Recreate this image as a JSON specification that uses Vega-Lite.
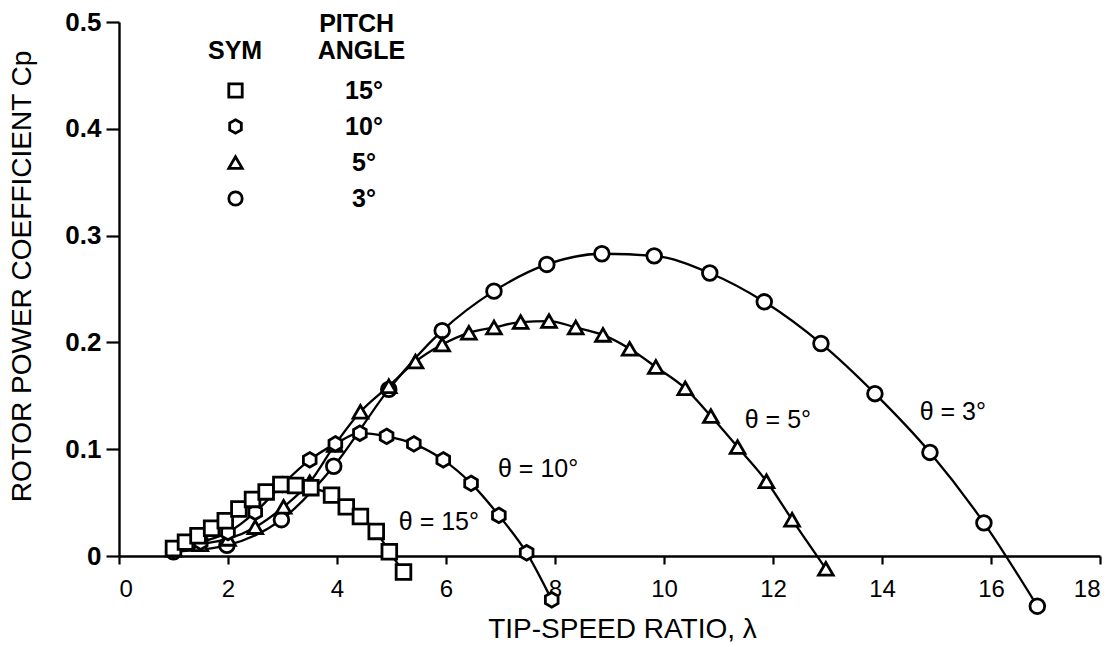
{
  "$schema": "https://vega.github.io/schema/vega-lite/v6.json",
  "width": 981,
  "height": 534,
  "autosize": {"type": "none"},
  "padding": {"left": 119, "top": 22, "right": 19, "bottom": 91},
  "background": "white",
  "config": {
    "view": {"stroke": null},
    "font": "Liberation Sans",
    "axis": {"grid": false, "domainColor": "black", "domainWidth": 2.4, "tickColor": "black", "tickWidth": 2.2, "labelColor": "black", "titleColor": "black", "labelFont": "Liberation Sans", "titleFont": "Liberation Sans"}
  },
  "datasets": {
    "pts": [
      {"pitch": "3°", "tsr": 1.0, "cp": 0.004},
      {"pitch": "3°", "tsr": 1.98, "cp": 0.010},
      {"pitch": "3°", "tsr": 2.98, "cp": 0.034},
      {"pitch": "3°", "tsr": 3.94, "cp": 0.084},
      {"pitch": "3°", "tsr": 4.95, "cp": 0.156},
      {"pitch": "3°", "tsr": 5.93, "cp": 0.211},
      {"pitch": "3°", "tsr": 6.88, "cp": 0.248},
      {"pitch": "3°", "tsr": 7.85, "cp": 0.273},
      {"pitch": "3°", "tsr": 8.86, "cp": 0.283},
      {"pitch": "3°", "tsr": 9.82, "cp": 0.281},
      {"pitch": "3°", "tsr": 10.84, "cp": 0.265},
      {"pitch": "3°", "tsr": 11.84, "cp": 0.238},
      {"pitch": "3°", "tsr": 12.88, "cp": 0.199},
      {"pitch": "3°", "tsr": 13.87, "cp": 0.152},
      {"pitch": "3°", "tsr": 14.88, "cp": 0.097},
      {"pitch": "3°", "tsr": 15.87, "cp": 0.031},
      {"pitch": "3°", "tsr": 16.85, "cp": -0.047},
      {"pitch": "5°", "tsr": 1.0, "cp": 0.006},
      {"pitch": "5°", "tsr": 1.49, "cp": 0.011},
      {"pitch": "5°", "tsr": 2.0, "cp": 0.016},
      {"pitch": "5°", "tsr": 2.5, "cp": 0.027},
      {"pitch": "5°", "tsr": 3.02, "cp": 0.046},
      {"pitch": "5°", "tsr": 3.5, "cp": 0.069},
      {"pitch": "5°", "tsr": 3.96, "cp": 0.104},
      {"pitch": "5°", "tsr": 4.43, "cp": 0.135},
      {"pitch": "5°", "tsr": 4.95, "cp": 0.159},
      {"pitch": "5°", "tsr": 5.44, "cp": 0.182},
      {"pitch": "5°", "tsr": 5.93, "cp": 0.198},
      {"pitch": "5°", "tsr": 6.42, "cp": 0.209},
      {"pitch": "5°", "tsr": 6.88, "cp": 0.214},
      {"pitch": "5°", "tsr": 7.37, "cp": 0.219},
      {"pitch": "5°", "tsr": 7.89, "cp": 0.220},
      {"pitch": "5°", "tsr": 8.38, "cp": 0.214},
      {"pitch": "5°", "tsr": 8.88, "cp": 0.207},
      {"pitch": "5°", "tsr": 9.37, "cp": 0.194},
      {"pitch": "5°", "tsr": 9.85, "cp": 0.177},
      {"pitch": "5°", "tsr": 10.39, "cp": 0.157},
      {"pitch": "5°", "tsr": 10.86, "cp": 0.131},
      {"pitch": "5°", "tsr": 11.35, "cp": 0.102},
      {"pitch": "5°", "tsr": 11.88, "cp": 0.070},
      {"pitch": "5°", "tsr": 12.35, "cp": 0.034},
      {"pitch": "5°", "tsr": 12.97, "cp": -0.012},
      {"pitch": "10°", "tsr": 1.0, "cp": 0.006},
      {"pitch": "10°", "tsr": 1.5, "cp": 0.013},
      {"pitch": "10°", "tsr": 2.0, "cp": 0.022},
      {"pitch": "10°", "tsr": 2.5, "cp": 0.041},
      {"pitch": "10°", "tsr": 3.0, "cp": 0.067},
      {"pitch": "10°", "tsr": 3.5, "cp": 0.090},
      {"pitch": "10°", "tsr": 3.97, "cp": 0.105},
      {"pitch": "10°", "tsr": 4.42, "cp": 0.115},
      {"pitch": "10°", "tsr": 4.91, "cp": 0.112},
      {"pitch": "10°", "tsr": 5.41, "cp": 0.105},
      {"pitch": "10°", "tsr": 5.95, "cp": 0.090},
      {"pitch": "10°", "tsr": 6.46, "cp": 0.068},
      {"pitch": "10°", "tsr": 6.97, "cp": 0.038},
      {"pitch": "10°", "tsr": 7.48, "cp": 0.003},
      {"pitch": "10°", "tsr": 7.94, "cp": -0.041},
      {"pitch": "15°", "tsr": 1.0, "cp": 0.007},
      {"pitch": "15°", "tsr": 1.22, "cp": 0.013},
      {"pitch": "15°", "tsr": 1.45, "cp": 0.019},
      {"pitch": "15°", "tsr": 1.7, "cp": 0.026},
      {"pitch": "15°", "tsr": 1.95, "cp": 0.033},
      {"pitch": "15°", "tsr": 2.2, "cp": 0.044},
      {"pitch": "15°", "tsr": 2.45, "cp": 0.053},
      {"pitch": "15°", "tsr": 2.7, "cp": 0.060},
      {"pitch": "15°", "tsr": 2.97, "cp": 0.067},
      {"pitch": "15°", "tsr": 3.24, "cp": 0.066},
      {"pitch": "15°", "tsr": 3.52, "cp": 0.064},
      {"pitch": "15°", "tsr": 3.9, "cp": 0.057},
      {"pitch": "15°", "tsr": 4.17, "cp": 0.046},
      {"pitch": "15°", "tsr": 4.43, "cp": 0.037},
      {"pitch": "15°", "tsr": 4.72, "cp": 0.023},
      {"pitch": "15°", "tsr": 4.96, "cp": 0.004},
      {"pitch": "15°", "tsr": 5.22, "cp": -0.015}
    ],
    "notes": [
      {"label": "θ = 3°", "tsr": 15.3, "cp": 0.135},
      {"label": "θ = 5°", "tsr": 12.09, "cp": 0.127},
      {"label": "θ = 10°", "tsr": 7.69, "cp": 0.081},
      {"label": "θ = 15°", "tsr": 5.87, "cp": 0.032}
    ]
  },
  "encoding": {
    "x": {
      "field": "tsr", "type": "quantitative",
      "scale": {"domain": [0, 18], "nice": false, "zero": false},
      "axis": {
        "values": [0, 2, 4, 6, 8, 10, 12, 14, 16, 18],
        "tickSize": 8, "labelFontSize": 24, "labelPadding": 13,
        "title": "TIP-SPEED RATIO, λ", "titleFontSize": 28, "titleFontWeight": "normal",
        "titlePadding": 14, "titleX": 503
      }
    },
    "y": {
      "field": "cp", "type": "quantitative",
      "scale": {"domain": [0, 0.5], "nice": false, "zero": false},
      "axis": {
        "values": [0, 0.1, 0.2, 0.3, 0.4, 0.5],
        "labelExpr": "datum.value == 0 ? '0' : format(datum.value, '.1f')",
        "tickSize": 13, "labelFontSize": 26, "labelFontWeight": "bold", "labelPadding": 5,
        "title": "ROTOR POWER COEFFICIENT Cp", "titleFontSize": 28, "titleFontWeight": "normal",
        "titleX": -97, "titleY": 254, "titleBaseline": "middle", "titleAngle": -90
      }
    }
  },
  "layer": [
    {
      "data": {"name": "pts"},
      "mark": {"type": "line", "interpolate": "monotone", "color": "black", "strokeWidth": 2.3, "clip": false},
      "encoding": {"detail": {"field": "pitch", "type": "nominal"}}
    },
    {
      "data": {"name": "pts"},
      "mark": {"type": "point", "filled": true, "size": 215, "clip": false},
      "encoding": {
        "fill": {"value": "white"},
        "stroke": {"value": "black"},
        "strokeWidth": {"value": 2.8},
        "opacity": {"value": 1},
        "shape": {
          "field": "pitch", "type": "nominal",
          "scale": {"domain": ["15°", "10°", "5°", "3°"], "range": ["square", "M0,-1L0.866,-0.5L0.866,0.5L0,1L-0.866,0.5L-0.866,-0.5Z", "triangle-up", "circle"]},
          "legend": {
            "orient": "none", "legendX": 89, "legendY": -10, "padding": 0,
            "title": ["\u200b\u00a0\u00a0\u00a0\u00a0\u00a0\u00a0\u00a0\u00a0\u00a0\u00a0\u00a0\u00a0\u00a0\u00a0\u00a0\u00a0PITCH", "\u200bSYM\u00a0\u00a0\u00a0\u00a0\u00a0\u00a0\u00a0\u00a0ANGLE"],
            "titleFontSize": 25, "titleFontWeight": "bold", "titleAlign": "left", "titleLineHeight": 27, "titlePadding": 14, "titleColor": "black", "titleLimit": 400,
            "labelFontSize": 25, "labelFontWeight": "bold", "labelAlign": "center", "labelOffset": 116, "labelColor": "black",
            "symbolSize": 180, "symbolStrokeWidth": 2.8, "symbolOffset": 15,
            "rowPadding": 10
          }
        }
      }
    },
    {
      "data": {"name": "notes"},
      "mark": {"type": "text", "fontSize": 25, "font": "Liberation Sans", "color": "black", "align": "center", "baseline": "middle"},
      "encoding": {"text": {"field": "label", "type": "nominal"}}
    }
  ]
}
